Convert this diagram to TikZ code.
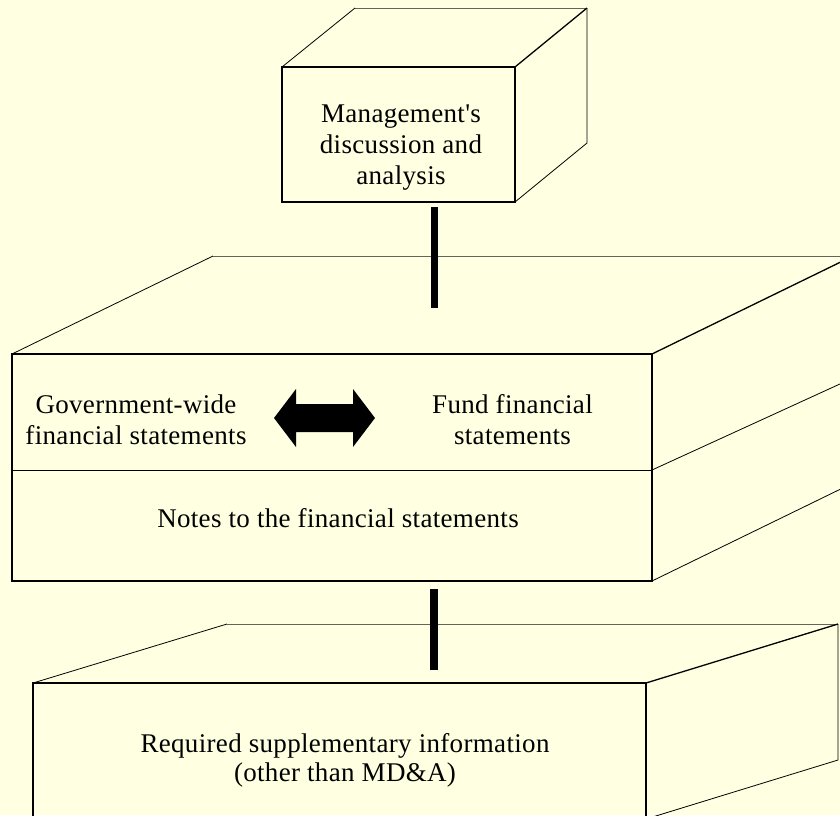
\documentclass[tikz,border=0pt]{standalone}
\usepackage{fontspec}
\setmainfont{Liberation Serif}
\newfontfamily\lblfont{Liberation Serif}[LetterSpace=1.2]
\definecolor{bg}{RGB}{255,255,225}
\definecolor{backgray}{RGB}{100,100,90}
\begin{document}
\begin{tikzpicture}[x=1pt,y=-1pt,
  frontface/.style={line width=1.6pt, line join=miter},
  slantedge/.style={line width=0.8pt},
  topslant/.style={line width=1.3pt},
  backedge/.style={line width=1pt, draw=backgray},
  bar/.style={line width=7.5pt},
  lbl/.style={font=\lblfont\fontsize{27}{31}\selectfont, align=center, inner sep=0pt},
  arrowfill/.style={fill=black, draw=none}]
\useasboundingbox (0,0) rectangle (840,815);
\fill[bg] (0,0) rectangle (840,815);
\begin{scope}
\clip (0,0) rectangle (840,815);
% ---------- top box ----------
\coordinate (tA) at (282,67);
\coordinate (tB) at (515,67);
\coordinate (tC) at (515,202);
\coordinate (tD) at (282,202);
\coordinate (tE) at (355,8);
\coordinate (tF) at (587,8);
\coordinate (tG) at (587,143);
\draw[backedge] (tE) -- (tF);
\draw[slantedge] (tA) -- (tE);
\draw[topslant] (tB) -- (tF);
\draw[slantedge] (tF) -- (tG) -- (tC);
\draw[frontface] (tA) rectangle (tC);
\node[lbl] (mda) at (401,147.3) {Management's\\discussion and\\analysis};
% ---------- middle box ----------
\coordinate (mA) at (12,354);
\coordinate (mB) at (652,354);
\coordinate (mC) at (652,581);
\coordinate (mD) at (12,581);
\coordinate (mL) at (12,470);
\coordinate (mR) at (652,470);
\coordinate (mE) at (213,256);
\coordinate (mF) at (860,256);
\coordinate (mG) at (853,256);
\coordinate (mH) at (853,378);
\coordinate (mI) at (853,483);
\draw[backedge] (mE) -- (mF);
\draw[slantedge] (mA) -- (mE);
\draw[topslant] (mB) -- (mG);
\draw[slantedge] (mR) -- (mH);
\draw[slantedge] (mC) -- (mI);
\draw[frontface] (mA) rectangle (mC);
\draw[slantedge] (mL) -- (mR);
\node[lbl] (gov) at (136,419.6) {Government-wide\\financial statements};
\node[lbl] (fund) at (512.5,419.6) {Fund financial\\statements};
\node[lbl, anchor=base] (notes) at (338,527) {Notes to the financial statements};
% double arrow
\coordinate (arL) at (274,418);
\coordinate (arR) at (375,418);
\fill[arrowfill] (arL) -- (296,389) -- (296,404) -- (353,404) -- (353,389)
  -- (arR) -- (353,447) -- (353,432) -- (296,432) -- (296,447) -- cycle;
% ---------- bottom box ----------
\coordinate (bA) at (33,683);
\coordinate (bB) at (646,683);
\coordinate (bC) at (646,819);
\coordinate (bD) at (33,819);
\coordinate (bE) at (227,624);
\coordinate (bF) at (838,624);
\coordinate (bG) at (838,760);
\draw[backedge] (bE) -- (bF);
\draw[slantedge] (bA) -- (bE);
\draw[topslant] (bB) -- (bF);
\draw[slantedge] (bF) -- (bG) -- (bC);
\draw[frontface] (bA) rectangle (bC);
\node[lbl, font=\lblfont\fontsize{27}{29}\selectfont] (rsi) at (345,760.7) {Required supplementary information\\(other than MD\&A)};
% ---------- connectors ----------
\coordinate (c1s) at (434.5,207);
\coordinate (c1e) at (434.5,308);
\coordinate (c2s) at (434,589);
\coordinate (c2e) at (434,670);
\draw[bar] (c1s) -- (c1e);
\draw[bar] (c2s) -- (c2e);
\end{scope}
\end{tikzpicture}
\end{document}
